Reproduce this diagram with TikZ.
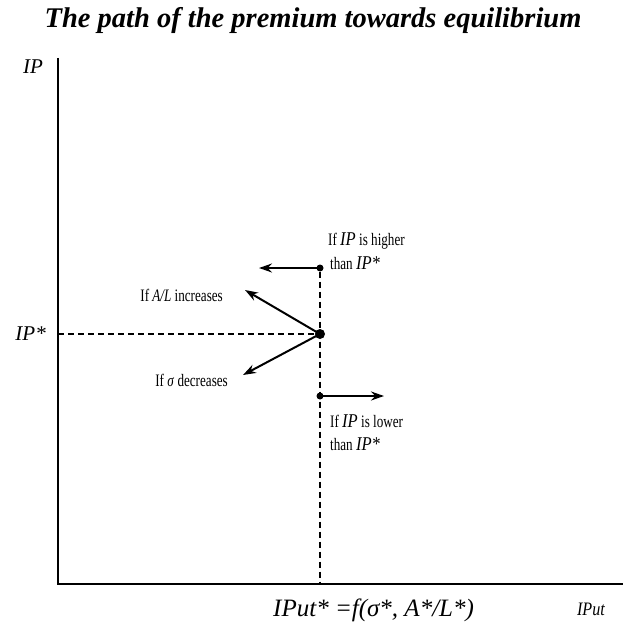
\documentclass[tikz,border=0pt]{standalone}
\usepackage{fontspec}
\setmainfont{Liberation Serif}
\newfontfamily\condfont[FakeStretch=0.75]{Liberation Serif}
\newfontfamily\semifont[FakeStretch=0.85]{Liberation Serif}
\usetikzlibrary{arrows.meta}
\newcommand{\bigit}[1]{{\semifont\fontsize{19.5}{22}\selectfont\itshape #1}}
\begin{document}
\begin{tikzpicture}[x=1pt,y=-1pt,
  axis/.style={line width=2.4pt},
  guide/.style={line width=1.5pt,dash pattern=on 6pt off 4pt},
  move/.style={line width=2pt,-{Stealth[length=13pt,width=9pt]}},
  dot/.style={circle,fill=black,inner sep=0pt,minimum size=#1},
  lbl/.style={inner sep=0pt,font=\condfont\fontsize{17.5}{20}\selectfont},
  axlbl/.style={inner sep=0pt,font=\fontsize{21}{24}\selectfont\itshape}]
\useasboundingbox (0,0) rectangle (623,631);
% title
\node[inner sep=0pt,font=\fontsize{28.5}{30}\selectfont\bfseries\itshape] (title) at (313,21) {The path of the premium towards equilibrium};
% axes
\coordinate (top) at (58,58);
\coordinate (origin) at (58,584);
\coordinate (right) at (623,584);
\draw[axis] (top) -- (origin) -- (right);
% equilibrium guides
\node[dot=10pt] (eq) at (320,334) {};
\node[dot=7pt] (hi) at (320,268) {};
\node[dot=7pt] (lo) at (320,396) {};
\coordinate (ipstar) at (58,334);
\coordinate (base) at (320,584);
\draw[guide] (ipstar) -- (eq);
\draw[guide] (hi) -- (base);
% movements
\coordinate (hiend) at (259,268);
\coordinate (loend) at (384,396);
\coordinate (alend) at (245,290);
\coordinate (sgend) at (243,375);
\draw[move] (hi.center) -- (hiend);
\draw[move] (lo.center) -- (loend);
\draw[move] (eq.center) -- (alend);
\draw[move] (eq.center) -- (sgend);
% labels
\node[axlbl] (ip) at (33,67) {IP};
\node[axlbl,anchor=east] (ips) at (46,334) {IP*};
\node[lbl,anchor=west] (hi1) at (328,241) {If \bigit{IP} is higher};
\node[lbl,anchor=west] (hi2) at (330,263) {than \bigit{IP*}};
\node[lbl,anchor=east] (al) at (223,295) {If \textit{A/L} increases};
\node[lbl,anchor=east] (sg) at (228,380) {If \textit{σ} decreases};
\node[lbl,anchor=west] (lo1) at (330,421) {If \bigit{IP} is lower};
\node[lbl,anchor=west] (lo2) at (330,444) {than \bigit{IP*}};
\node[axlbl,font=\fontsize{25}{27}\selectfont\itshape,anchor=west] (ipu) at (273,610) {IPut* =f(σ*, A*/L*)};
\node[axlbl,font=\semifont\fontsize{19}{22}\selectfont\itshape] (ipux) at (591,609) {IPut};
\end{tikzpicture}
\end{document}
